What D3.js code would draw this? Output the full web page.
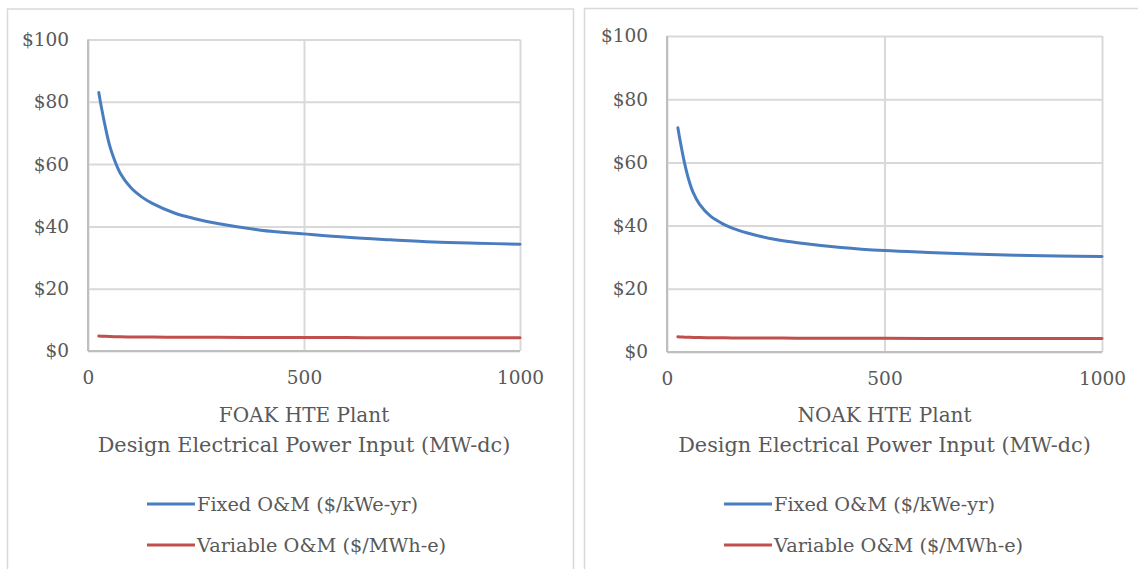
<!DOCTYPE html>
<html>
<head>
<meta charset="utf-8">
<script src="https://cdn.jsdelivr.net/npm/d3@7"></script>
<style>
  html, body { margin: 0; padding: 0; background: #fff; }
  svg { display: block; }
</style>
</head>
<body>
<svg id="chart" width="1138" height="569"></svg>
<script>
// ---- data ----
const powerMW = [25, 30, 40, 50, 60, 75, 100, 125, 150, 200, 250, 300, 400, 500, 600, 700, 800, 900, 1000];
const foakFixed = [83, 79, 72, 66, 61.8, 57, 52.3, 49.4, 47.3, 44.3, 42.4, 40.9, 38.8, 37.6, 36.5, 35.7, 35.0, 34.6, 34.3];
const foakVariable = [4.8, 4.75, 4.7, 4.65, 4.6, 4.55, 4.5, 4.48, 4.46, 4.43, 4.4, 4.38, 4.35, 4.32, 4.3, 4.28, 4.27, 4.26, 4.25];
const noakFixed = [71, 67, 60, 54.5, 50.5, 46.7, 43, 40.8, 39.2, 37.1, 35.6, 34.6, 33.1, 32.1, 31.5, 31.0, 30.6, 30.4, 30.2];
const noakVariable = [4.8, 4.75, 4.7, 4.65, 4.6, 4.55, 4.5, 4.48, 4.46, 4.43, 4.4, 4.38, 4.35, 4.32, 4.3, 4.28, 4.27, 4.26, 4.25];
const yTicks = [0, 20, 40, 60, 80, 100];
const xTicks = [0, 500, 1000];
const seriesNames = ["Fixed O&M ($/kWe-yr)", "Variable O&M ($/MWh-e)"];
const panelTitles = ["FOAK HTE Plant", "NOAK HTE Plant"];
const axisTitle = "Design Electrical Power Input (MW-dc)";

// ---- layout / style ----
const colors = ["#4a7dbf", "#c0504d"];
const gridColor = "#d9d9d9";
const textColor = "#595959";
const font = "'DejaVu Serif', 'Liberation Serif', serif";

const panels = [
  { box: [7.5, 9, 566, 580], plot: { x0: 88, x1: 520, y0: 39.5, y1: 351 }, title: panelTitles[0], fixed: foakFixed, variable: foakVariable, legendX: 147 },
  { box: [584.5, 8.5, 580, 580], plot: { x0: 667, x1: 1102, y0: 36, y1: 352 }, title: panelTitles[1], fixed: noakFixed, variable: noakVariable, legendX: 724 }
];

const svg = d3.select("#chart");

panels.forEach(p => {
  const g = svg.append("g");
  // panel border
  g.append("rect")
    .attr("x", p.box[0]).attr("y", p.box[1])
    .attr("width", p.box[2]).attr("height", p.box[3])
    .attr("fill", "#fff").attr("stroke", gridColor).attr("stroke-width", 1.5);

  const x = d3.scaleLinear().domain([0, 1000]).range([p.plot.x0, p.plot.x1]);
  const y = d3.scaleLinear().domain([0, 100]).range([p.plot.y1, p.plot.y0]);

  // horizontal grid
  g.append("g")
    .attr("transform", `translate(${p.plot.x0},0)`)
    .call(d3.axisLeft(y).tickValues(yTicks).tickSize(-(p.plot.x1 - p.plot.x0)).tickFormat(""))
    .call(a => a.select(".domain").remove())
    .call(a => a.selectAll("line").attr("stroke", gridColor).attr("stroke-width", 2));

  // vertical grid
  g.append("g")
    .attr("transform", `translate(0,${p.plot.y1})`)
    .call(d3.axisBottom(x).tickValues(xTicks).tickSize(-(p.plot.y1 - p.plot.y0)).tickFormat(""))
    .call(a => a.select(".domain").remove())
    .call(a => a.selectAll("line").attr("stroke", gridColor).attr("stroke-width", 2));

  // axis lines
  g.append("line")
    .attr("x1", p.plot.x0).attr("x2", p.plot.x0).attr("y1", p.plot.y0).attr("y2", p.plot.y1)
    .attr("stroke", "#bfbfbf").attr("stroke-width", 2);
  g.append("line")
    .attr("x1", p.plot.x0).attr("x2", p.plot.x1).attr("y1", p.plot.y1).attr("y2", p.plot.y1)
    .attr("stroke", "#bfbfbf").attr("stroke-width", 2);

  // y tick labels
  g.append("g")
    .attr("transform", `translate(${p.plot.x0},0)`)
    .call(d3.axisLeft(y).tickValues(yTicks).tickSize(0).tickPadding(19).tickFormat(d => "$" + d))
    .call(a => a.select(".domain").remove())
    .call(a => a.selectAll("text").attr("fill", textColor).style("font-family", font).style("font-size", "18.5px"));

  // x tick labels
  g.append("g")
    .attr("transform", `translate(0,${p.plot.y1})`)
    .call(d3.axisBottom(x).tickValues(xTicks).tickSize(0).tickPadding(20).tickFormat(d3.format("d")))
    .call(a => a.select(".domain").remove())
    .call(a => a.selectAll("text").attr("fill", textColor).style("font-family", font).style("font-size", "18.5px"));

  // axis title
  const cx = (p.plot.x0 + p.plot.x1) / 2;
  g.append("text").attr("x", cx).attr("y", 422).attr("text-anchor", "middle")
    .attr("fill", textColor).style("font-family", font).style("font-size", "20px").text(p.title);
  g.append("text").attr("x", cx).attr("y", 452).attr("text-anchor", "middle")
    .attr("fill", textColor).style("font-family", font).style("font-size", "20.8px").text(axisTitle);

  // series lines
  const line = d3.line().x((d, i) => x(powerMW[i])).y(d => y(d)).curve(d3.curveCatmullRom.alpha(0.5));
  [p.fixed, p.variable].forEach((vals, k) => {
    g.append("path").datum(vals)
      .attr("d", line)
      .attr("fill", "none").attr("stroke", colors[k]).attr("stroke-width", 3)
      .attr("stroke-linecap", "round");
  });

  // legend
  const legendY = [504, 545];
  seriesNames.forEach((name, k) => {
    g.append("line")
      .attr("x1", p.legendX).attr("x2", p.legendX + 48)
      .attr("y1", legendY[k]).attr("y2", legendY[k])
      .attr("stroke", colors[k]).attr("stroke-width", 3);
    g.append("text").attr("x", p.legendX + 50).attr("y", legendY[k]).attr("dy", "0.35em")
      .attr("fill", textColor).style("font-family", font).style("font-size", "19.3px").text(name);
  });
});
</script>
</body>
</html>
